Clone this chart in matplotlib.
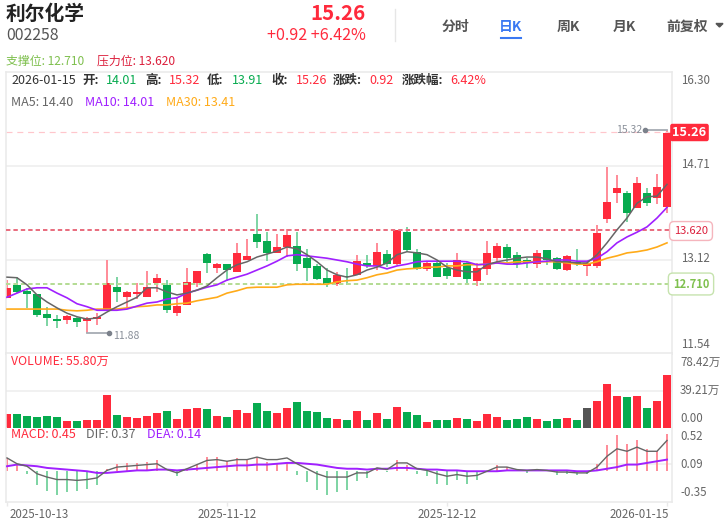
import numpy as np
import matplotlib
matplotlib.use('Agg')
import matplotlib.pyplot as plt

plt.rcParams['font.family'] = ['Noto Sans CJK SC', 'DejaVu Sans']

# ============================================================
# DATA
# ============================================================
OPEN = [12.48, 12.70, 12.60, 12.55, 12.21, 12.12, 12.11, 12.14, 12.09, 12.12, 12.27, 12.66, 12.49, 12.55,
        12.49, 12.73, 12.70, 12.22, 12.36, 12.73, 13.22, 12.99, 13.05, 12.92, 13.12, 13.56, 13.44, 13.24,
        13.34, 13.36, 13.15, 13.02, 12.82, 12.71, 12.85, 12.87, 13.07, 13.02, 13.22, 13.05, 13.59, 13.26,
        12.97, 13.07, 12.99, 12.83, 13.07, 12.77, 12.97, 13.15, 13.34, 13.21, 13.12, 13.05, 13.29, 13.15,
        12.95, 13.09, 13.02, 13.02, 13.81, 14.25, 14.25, 14.00, 14.25, 14.17, 14.01]
HIGH = [12.78, 12.83, 12.65, 12.55, 12.33, 12.19, 12.19, 12.16, 12.16, 12.22, 13.12, 12.83, 12.60, 12.73,
        12.93, 12.88, 12.78, 12.48, 12.99, 12.93, 13.24, 13.07, 13.05, 13.41, 13.48, 13.90, 13.59, 13.56,
        13.65, 13.59, 13.31, 13.05, 12.99, 12.92, 12.99, 13.21, 13.21, 13.41, 13.29, 13.63, 13.68, 13.31,
        13.10, 13.09, 13.07, 13.24, 13.09, 13.07, 13.44, 13.41, 13.39, 13.26, 13.15, 13.29, 13.29, 13.17,
        13.21, 13.31, 13.10, 13.71, 14.69, 14.56, 14.29, 14.52, 14.34, 14.58, 15.32]
LOW = [12.48, 12.56, 12.31, 12.16, 12.00, 11.97, 12.04, 11.99, 11.88, 12.02, 12.27, 12.41, 12.31, 12.46,
       12.49, 12.58, 12.22, 12.17, 12.36, 12.66, 12.90, 12.90, 12.77, 12.92, 13.12, 13.32, 13.10, 13.24,
       13.17, 12.93, 12.77, 12.78, 12.66, 12.68, 12.70, 12.87, 12.99, 12.95, 13.00, 13.04, 13.26, 12.95,
       12.93, 12.83, 12.80, 12.83, 12.73, 12.68, 12.87, 13.09, 13.09, 12.99, 12.99, 12.99, 13.04, 12.95,
       12.93, 13.02, 12.85, 12.99, 13.75, 14.08, 13.76, 14.00, 14.03, 14.07, 13.91]
CLOSE = [12.65, 12.58, 12.55, 12.19, 12.14, 12.09, 12.17, 12.07, 12.14, 12.16, 12.73, 12.58, 12.58, 12.58,
         12.66, 12.82, 12.27, 12.34, 12.75, 12.93, 13.07, 13.05, 12.95, 13.24, 13.19, 13.42, 13.24, 13.34,
         13.54, 13.05, 12.99, 12.80, 12.71, 12.87, 12.83, 13.10, 13.02, 13.26, 13.05, 13.63, 13.29, 12.97,
         13.07, 12.83, 12.85, 13.12, 12.80, 12.99, 13.24, 13.36, 13.15, 13.05, 13.07, 13.24, 13.12, 12.97,
         13.19, 13.05, 13.07, 13.58, 14.10, 14.34, 13.92, 14.42, 14.08, 14.36, 15.26]

MA5 = [12.83, 12.82, 12.70, 12.53, 12.41, 12.31, 12.22, 12.16, 12.12, 12.14, 12.24, 12.33, 12.41, 12.49,
       12.65, 12.65, 12.58, 12.53, 12.56, 12.61, 12.68, 12.82, 12.95, 13.04, 13.09, 13.17, 13.22, 13.27,
       13.34, 13.31, 13.21, 13.09, 12.95, 12.87, 12.83, 12.87, 12.95, 13.00, 13.07, 13.21, 13.26, 13.24,
       13.21, 13.12, 13.00, 12.95, 12.92, 12.92, 13.04, 13.09, 13.12, 13.15, 13.17, 13.17, 13.14, 13.09,
       13.09, 13.07, 13.07, 13.21, 13.41, 13.63, 13.83, 14.08, 14.19, 14.20, 14.40]
MA10 = [12.49, 12.56, 12.63, 12.65, 12.65, 12.56, 12.48, 12.38, 12.33, 12.27, 12.27, 12.27, 12.29, 12.34,
        12.39, 12.41, 12.46, 12.48, 12.56, 12.61, 12.66, 12.70, 12.78, 12.83, 12.88, 12.95, 13.02, 13.10,
        13.19, 13.21, 13.19, 13.17, 13.15, 13.12, 13.09, 13.05, 13.02, 13.02, 12.97, 13.02, 13.05, 13.09,
        13.10, 13.10, 13.10, 13.10, 13.09, 13.04, 13.05, 13.07, 13.05, 13.05, 13.07, 13.09, 13.10, 13.12,
        13.12, 13.10, 13.10, 13.15, 13.26, 13.41, 13.51, 13.59, 13.68, 13.83, 14.01]
MA30 = [12.29, 12.29, 12.29, 12.29, 12.29, 12.29, 12.27, 12.26, 12.27, 12.29, 12.29, 12.29, 12.31, 12.33,
        12.34, 12.36, 12.36, 12.38, 12.39, 12.43, 12.46, 12.49, 12.56, 12.60, 12.65, 12.66, 12.66, 12.66,
        12.70, 12.71, 12.71, 12.71, 12.71, 12.75, 12.77, 12.78, 12.82, 12.87, 12.90, 12.95, 12.97, 12.98,
        13.00, 13.00, 13.02, 13.02, 13.04, 13.04, 13.05, 13.07, 13.07, 13.09, 13.09, 13.09, 13.09, 13.09,
        13.07, 13.05, 13.05, 13.09, 13.15, 13.19, 13.24, 13.26, 13.29, 13.34, 13.41]

VOLUME = [14.3, 14.3, 12.2, 11.2, 12.2, 11.2, 7.0, 7.0, 8.0, 8.0, 34.2, 13.2, 11.2, 10.1, 12.2, 15.3, 17.4,
          9.1, 19.5, 20.6, 19.5, 12.2, 11.2, 18.5, 15.3, 25.8, 17.4, 15.3, 20.6, 26.8, 17.4, 16.4, 10.1, 9.1,
          8.0, 17.4, 8.0, 15.3, 9.1, 21.6, 16.4, 13.2, 5.9, 8.0, 8.0, 10.1, 9.1, 7.0, 14.3, 11.2, 8.0, 9.1,
          11.2, 9.1, 7.0, 9.1, 10.1, 8.0, 20.6, 27.9, 45.7, 33.1, 32.1, 33.1, 20.6, 27.9, 55.80]

MACD_HIST = [0.16, 0.08, -0.03, -0.17, -0.24, -0.28, -0.25, -0.24, -0.21, -0.16, 0.03, 0.09, 0.10, 0.10,
             0.11, 0.14, 0.0, -0.06, 0.03, 0.09, 0.17, 0.17, 0.12, 0.16, 0.15, 0.16, 0.11, 0.09, 0.10, -0.04,
             -0.13, -0.23, -0.29, -0.25, -0.23, -0.12, -0.08, 0.03, -0.01, 0.13, 0.08, -0.03, -0.06, -0.15,
             -0.17, -0.10, -0.15, -0.10, 0.0, 0.07, 0.05, 0.01, -0.02, 0.01, 0.0, -0.05, -0.03, -0.04, -0.03,
             0.09, 0.31, 0.44, 0.33, 0.38, 0.27, 0.24, 0.45]
DIF = [0.16, 0.09, 0.06, -0.03, -0.07, -0.10, -0.10, -0.11, -0.10, -0.08, 0.01, 0.05, 0.06, 0.07, 0.08, 0.09,
       0.02, -0.02, 0.03, 0.08, 0.13, 0.14, 0.12, 0.14, 0.14, 0.17, 0.14, 0.14, 0.16, 0.09, 0.03, -0.03, -0.07,
       -0.07, -0.07, -0.02, -0.02, 0.04, 0.02, 0.10, 0.10, 0.03, 0.01, -0.03, -0.06, -0.04, -0.06, -0.05, 0.0,
       0.05, 0.05, 0.02, 0.01, 0.02, 0.01, -0.01, -0.01, -0.02, -0.02, 0.05, 0.18, 0.27, 0.24, 0.29, 0.24, 0.24,
       0.37]
DEA = [0.06, 0.08, 0.07, 0.06, 0.04, 0.03, 0.02, 0.01, 0.0, -0.02, -0.02, -0.01, 0.0, 0.01, 0.01, 0.02, 0.02,
       0.01, 0.02, 0.03, 0.04, 0.05, 0.06, 0.07, 0.07, 0.08, 0.08, 0.09, 0.10, 0.10, 0.09, 0.08, 0.06, 0.04, 0.03,
       0.03, 0.02, 0.03, 0.03, 0.04, 0.04, 0.03, 0.02, 0.02, 0.01, 0.01, 0.0, 0.0, 0.0, 0.0, 0.01, 0.01, 0.01,
       0.01, 0.01, 0.01, 0.01, 0.0, 0.0, 0.01, 0.03, 0.05, 0.08, 0.08, 0.10, 0.12, 0.14]

DATE_LABELS = ['2025-10-13', '2025-11-12', '2025-12-12', '2026-01-15']
DATE_INDEX = [0, 22, 44, 66]
PRICE_TICKS = [16.30, 14.71, 13.12, 11.54]
VOLUME_TICKS = [78.42, 39.21, 0.00]
MACD_TICKS = [0.52, 0.09, -0.35]
SUPPORT = 12.710
RESISTANCE = 13.620
FLAT_BAR = 58   # this volume bar is drawn dark grey

# ============================================================
# STYLE
# ============================================================
W, H = 727, 524
RED = '#ff2a3c'
GREEN = '#07ab4f'
RED_LIGHT = '#ff8e9a'
GREEN_LIGHT = '#80d5a5'
GREY = '#666666'
PURPLE = '#a020ff'
ORANGE = '#ffab19'
GRID = '#f1f1f1'
BORDER = '#e9e9e9'
SUPPORT_GREEN = '#7fc04e'
RESIST_RED = '#dc1f3c'
BLUE = '#3a78f2'
PX = 72 / 100   # one pixel in points
ROW_SIZE = 9.0  # info rows above each panel


def make_axes(fig, top, bottom):
    """Axes spanning the chart width between two pixel rows."""
    ax = fig.add_axes([6 / W, 1 - bottom / H, (672 - 6) / W, (bottom - top) / H])
    ax.set_xlim(-0.1, 66.5)
    ax.set_xticks([])
    ax.set_yticks([])
    for spine in ax.spines.values():
        spine.set_color(BORDER)
        spine.set_linewidth(1.5 * PX)
    return ax


def label(x, y, s, color='#333333', size=8.3, ha='left', weight='normal', **kw):
    """Text placed by pixel position, y is the vertical centre."""
    return fig.text(x / W, 1 - y / H, s, color=color, fontsize=size, ha=ha, va='center',
                    fontweight=weight, **kw)


x = np.arange(len(CLOSE))
opens = np.array(OPEN)
closes = np.array(CLOSE)
up = closes >= opens

fig = plt.figure(figsize=(W / 100, H / 100), dpi=100, facecolor='white')

# ------------------------------------------------------------
# Price panel
# ------------------------------------------------------------
ax = make_axes(fig, 72, 354)
ax.set_ylim(11.53, 16.30)
for p in PRICE_TICKS[1:3]:
    ax.axhline(p, color=GRID, lw=2 * PX, zorder=0)

ax.vlines(x[up], np.array(LOW)[up], np.array(HIGH)[up], color=RED_LIGHT, lw=2 * PX, zorder=1)
ax.vlines(x[~up], np.array(LOW)[~up], np.array(HIGH)[~up], color=GREEN_LIGHT, lw=2 * PX, zorder=1)
ax.bar(x, np.abs(closes - opens), bottom=np.minimum(opens, closes), width=0.8,
       color=[RED if u else GREEN for u in up], zorder=2)

ax.axhline(CLOSE[-1] + 0.02, color='#ffc6cc', lw=1.2 * PX, dashes=(5, 4), zorder=1)
ax.axhline(RESISTANCE, color='#e96f80', lw=2 * PX, dashes=(2.2, 1.5), zorder=3)
ax.axhline(SUPPORT, color='#b5dc95', lw=2 * PX, dashes=(2.2, 1.5), zorder=3)

ax.plot(x, MA30, color=ORANGE, lw=1.2, zorder=4)
ax.plot(x, MA10, color=PURPLE, lw=1.2, zorder=5)
ax.plot(x, MA5, color=GREY, lw=1.1, zorder=6)

# highest and lowest price markers
hi = int(np.argmax(HIGH))
lo = int(np.argmin(LOW))
ax.plot([hi - 2.2, hi], [HIGH[hi], HIGH[hi]], color='#a6abb3', lw=1.3, zorder=7)
ax.plot([hi - 2.2], [HIGH[hi]], 'o', color='#7b818b', ms=3, zorder=7)
ax.plot([lo, lo + 2.2], [LOW[lo], LOW[lo]], color='#a6abb3', lw=1.3, zorder=7)
ax.plot([lo + 2.2], [LOW[lo]], 'o', color='#7b818b', ms=3, zorder=7)
ax.annotate(f'{HIGH[hi]:.2f}', (hi - 2.2, HIGH[hi]), xytext=(-2, 0), textcoords='offset points',
            ha='right', va='center', color='#8a909a', fontsize=7.6, zorder=8)
ax.annotate(f'{LOW[lo]:.2f}', (lo + 2.2, LOW[lo]), xytext=(3, -2), textcoords='offset points',
            ha='left', va='center', color='#8a909a', fontsize=7.6, zorder=8)

# ------------------------------------------------------------
# Volume panel
# ------------------------------------------------------------
ax_vol = make_axes(fig, 353, 428)
ax_vol.set_ylim(0, VOLUME_TICKS[0])
ax_vol.axhline(VOLUME_TICKS[1], color=GRID, lw=2 * PX, zorder=0)
vol_colors = [RED if u else GREEN for u in up]
vol_colors[FLAT_BAR] = '#555555'
ax_vol.bar(x, VOLUME, width=0.8, color=vol_colors, zorder=2)
ax_vol.spines['bottom'].set_visible(False)

# ------------------------------------------------------------
# MACD panel
# ------------------------------------------------------------
ax_macd = make_axes(fig, 428, 502)
ax_macd.set_ylim(-0.37, 0.52)
ax_macd.axhline(MACD_TICKS[1], color=GRID, lw=2 * PX, zorder=0)
hist = np.array(MACD_HIST)
ax_macd.bar(x, hist, width=0.2, color=[RED_LIGHT if v >= 0 else GREEN_LIGHT for v in hist], zorder=2)
ax_macd.plot(x, DEA, color=PURPLE, lw=1.4, zorder=3)
ax_macd.plot(x, DIF, color=GREY, lw=1.0, zorder=4)
ax_macd.spines['top'].set_visible(False)
ax_macd.set_xticks(DATE_INDEX)
ax_macd.set_xticklabels([])
ax_macd.tick_params(axis='x', length=3, width=1, color=BORDER)

# ------------------------------------------------------------
# Header
# ------------------------------------------------------------
label(6, 14, '利尔化学', color='#222222', size=14.2, weight='bold')
label(6, 36, '002258', color='#555555', size=11.4)
label(366, 14, f'{CLOSE[-1]:.2f}', color=RED, size=14.8, ha='right', weight='bold')
label(366, 36, '+0.92 +6.42%', color=RED, size=11.6, ha='right')
fig.add_artist(plt.Line2D([394.5 / W, 394.5 / W], [1 - 9 / H, 1 - 41 / H], color='#e6e6e6', lw=1))

for cx, s, col in [(455, '分时', '#555555'), (511, '日K', BLUE), (568, '周K', '#555555'),
                   (624, '月K', '#555555'), (687, '前复权', '#555555')]:
    label(cx, 26.5, s, color=col, size=10, ha='center', weight='bold')
fig.add_artist(plt.Line2D([501 / W, 521 / W], [1 - 38 / H, 1 - 38 / H], color=BLUE, lw=1.5))
fig.add_artist(plt.Polygon([[716 / W, 1 - 23.5 / H], [723 / W, 1 - 23.5 / H], [719.5 / W, 1 - 27 / H]],
                           color='#555555', transform=fig.transFigure))

label(6, 61, f'支撑位: {SUPPORT:.3f}', color=SUPPORT_GREEN, size=8.6)
label(97, 61, f'压力位: {RESISTANCE:.3f}', color=RESIST_RED, size=8.6)

# OHLC row, CJK captions are heavier than the numbers
for px, s, col, w in [(11, '2026-01-15', '#333333', 'normal'), (82, '开:', '#333333', 'bold'),
                      (106, '14.01', GREEN, 'normal'), (145, '高:', '#333333', 'bold'),
                      (169, '15.32', RED, 'normal'), (207, '低:', '#333333', 'bold'),
                      (232, '13.91', GREEN, 'normal'), (271, '收:', '#333333', 'bold'),
                      (296, '15.26', RED, 'normal'), (333, '涨跌:', '#333333', 'bold'),
                      (369, '0.92', RED, 'normal'), (402, '涨跌幅:', '#333333', 'bold'),
                      (450, '6.42%', RED, 'normal')]:
    label(px, 80, s, color=col, size=ROW_SIZE, weight=w)

for px, s, col in [(11, 'MA5: 14.40', GREY), (85, 'MA10: 14.01', PURPLE), (166, 'MA30: 13.41', ORANGE)]:
    label(px, 103, s, color=col, size=ROW_SIZE)

label(11, 361, 'VOLUME: 55.80万', color=RED, size=8.8)
for px, s, col in [(11, 'MACD: 0.45', RED), (86, 'DIF: 0.37', GREY), (147, 'DEA: 0.14', PURPLE)]:
    label(px, 435, s, color=col, size=ROW_SIZE)

# ------------------------------------------------------------
# Right hand and bottom labels
# ------------------------------------------------------------
for py, v in zip([80, 165, 259, 344], PRICE_TICKS):
    label(681, py, f'{v:.2f}', color=GREY)
for py, v in zip([362, 390], VOLUME_TICKS[:2]):
    label(680, py, f'{v:.2f}万', color=GREY)
label(680, 419, f'{VOLUME_TICKS[2]:.2f}', color=GREY)
for py, v in zip([436, 464, 493], MACD_TICKS):
    label(680, py, f'{v:.2f}', color=GREY)

for cx, s in zip([39, 227, 447, 639], DATE_LABELS):
    label(cx, 515, s, color=GREY, ha='center')

# price tags
label(689.5, 132.5, f'{CLOSE[-1]:.2f}', color='white', ha='center', weight='bold', size=9.2,
      bbox=dict(boxstyle='round,pad=0.12', fc=RED, ec=RED))
label(691, 231, f'{RESISTANCE:.3f}', color=RESIST_RED, ha='center', size=8,
      bbox=dict(boxstyle='round,pad=0.4', fc='white', ec='#f5b5bd', lw=1))
label(691, 284, f'{SUPPORT:.3f}', color=SUPPORT_GREEN, ha='center', size=8, weight='bold',
      bbox=dict(boxstyle='round,pad=0.4', fc='white', ec='#c6e3ae', lw=1))

fig.savefig('out.png', dpi=100)
